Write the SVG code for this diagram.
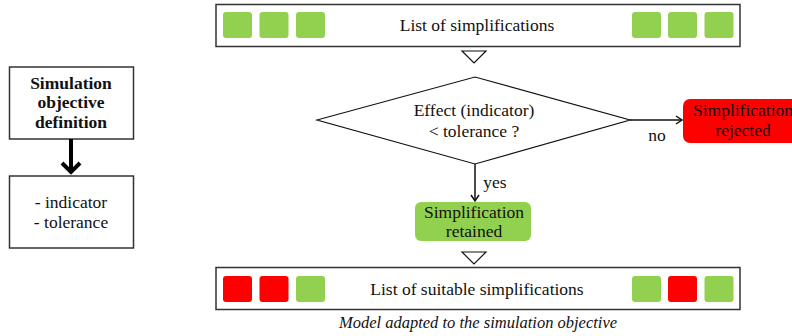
<svg xmlns="http://www.w3.org/2000/svg" width="792" height="336" viewBox="0 0 792 336">
<defs>
<style>
.t{font-size:17.5px;text-anchor:middle;}
.b{font-size:17.5px;font-weight:bold;text-anchor:middle;}
.box{fill:#fff;stroke:#333;stroke-width:1.5;}
.g{fill:#92D050;}
.r{fill:#FF0000;}
.tri{fill:#fff;stroke:#111;stroke-width:1.2;}
.ln{fill:none;stroke:#111;stroke-width:1.5;}
</style>
<marker id="ah" markerWidth="10" markerHeight="10" refX="8" refY="5" orient="auto" markerUnits="userSpaceOnUse">
<path d="M2,1 L8,5 L2,9" fill="none" stroke="#111" stroke-width="1.5"/>
</marker>
<marker id="ahb" markerWidth="24" markerHeight="24" refX="12" refY="12" orient="auto" markerUnits="userSpaceOnUse">
<path d="M3,3 L12,12 L3,21" fill="none" stroke="#000" stroke-width="4"/>
</marker>
</defs>
<rect width="792" height="336" fill="#fff"/>
<g font-family="'Liberation Serif', 'DejaVu Serif', serif" fill="#111">

<g id="list-top">
<rect class="box" x="216" y="4.5" width="524" height="42"/>
<rect class="g" x="223" y="12" width="29" height="26" rx="3"/>
<rect class="g" x="259.5" y="12" width="29" height="26" rx="3"/>
<rect class="g" x="296" y="12" width="29" height="26" rx="3"/>
<rect class="g" x="632" y="12" width="29" height="26" rx="3"/>
<rect class="g" x="668" y="12" width="29" height="26" rx="3"/>
<rect class="g" x="704.5" y="12" width="29" height="26" rx="3"/>
<text class="t" x="477" y="31">List of simplifications</text>
</g>

<g id="tri-top"><polygon class="tri" points="462,51 486,51 474,63"/></g>

<g id="decision">
<polygon points="317,120 475,77 630,120 475,164" fill="#fff" stroke="#111" stroke-width="1.2"/>
<text class="t" x="474" y="116">Effect (indicator)</text>
<text class="t" x="474" y="137">&lt; tolerance ?</text>
</g>

<g id="rejected">
<rect class="r" x="683" y="99" width="130" height="44" rx="7"/>
<text class="t" x="743" y="116">Simplification</text>
<text class="t" x="743" y="136">rejected</text>
</g>

<g id="retained">
<rect class="g" x="415" y="202" width="116" height="39" rx="6"/>
<text class="t" x="474" y="218">Simplification</text>
<text class="t" x="474" y="237">retained</text>
</g>

<g id="tri-bottom"><polygon class="tri" points="462,252 486,252 474,264"/></g>

<g id="list-bottom">
<rect class="box" x="216" y="267.5" width="524" height="42"/>
<rect class="r" x="223" y="276" width="29" height="26" rx="3"/>
<rect class="r" x="259.5" y="276" width="29" height="26" rx="3"/>
<rect class="g" x="296" y="276" width="29" height="26" rx="3"/>
<rect class="g" x="632" y="276" width="29" height="26" rx="3"/>
<rect class="r" x="668" y="276" width="29" height="26" rx="3"/>
<rect class="g" x="704.5" y="276" width="29" height="26" rx="3"/>
<text class="t" x="477" y="295">List of suitable simplifications</text>
</g>

<g id="caption">
<text x="478" y="328" font-size="16.5" font-style="italic" text-anchor="middle">Model adapted to the simulation objective</text>
</g>

<g id="objective">
<rect class="box" x="9.5" y="67" width="124" height="72"/>
<text class="b" x="71" y="89">Simulation</text>
<text class="b" x="71" y="108">objective</text>
<text class="b" x="71" y="128">definition</text>
</g>

<g id="params">
<rect class="box" x="9.5" y="176" width="124" height="72"/>
<text class="t" x="71" y="208">- indicator</text>
<text class="t" x="71" y="228">- tolerance</text>
</g>

<g id="connectors">
<line class="ln" x1="630" y1="120" x2="682" y2="120" marker-end="url(#ah)"/>
<text class="t" x="657" y="141">no</text>
<line class="ln" x1="475" y1="164" x2="475" y2="201" marker-end="url(#ah)"/>
<text class="t" x="495" y="188">yes</text>
<line x1="71" y1="139" x2="71" y2="172" stroke="#000" stroke-width="4" marker-end="url(#ahb)"/>
</g>
</g>
</svg>
